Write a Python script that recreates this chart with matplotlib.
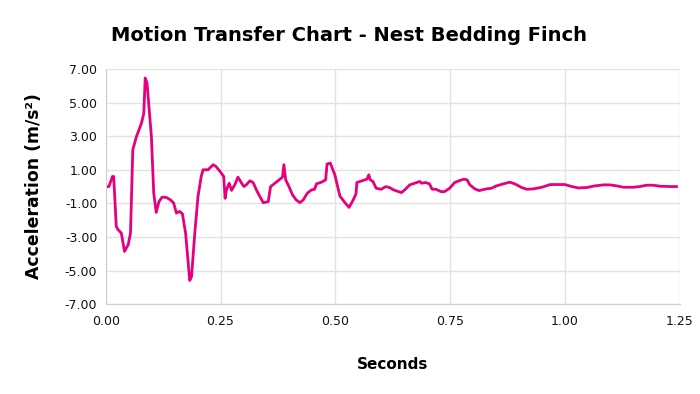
import matplotlib.pyplot as plt

# time (s) and acceleration (m/s^2)
seconds = [0.000, 0.007, 0.0146, 0.0174, 0.023, 0.027, 0.034, 0.041, 0.049, 0.054,
           0.059, 0.067, 0.078, 0.083, 0.086, 0.090, 0.0995, 0.1046, 0.110, 0.116,
           0.123, 0.132, 0.141, 0.148, 0.154, 0.161, 0.167, 0.174, 0.179, 0.183,
           0.187, 0.194, 0.201, 0.208, 0.212, 0.223, 0.234, 0.240, 0.249, 0.257,
           0.260, 0.263, 0.269, 0.274, 0.281, 0.288, 0.296, 0.301, 0.306, 0.314,
           0.321, 0.330, 0.339, 0.343, 0.354, 0.359, 0.364, 0.375, 0.385, 0.388,
           0.392, 0.399, 0.407, 0.415, 0.423, 0.430, 0.439, 0.448, 0.455, 0.459,
           0.470, 0.479, 0.482, 0.489, 0.499, 0.510, 0.521, 0.530, 0.539, 0.545,
           0.547, 0.560, 0.569, 0.573, 0.576, 0.582, 0.589, 0.600, 0.610, 0.618,
           0.627, 0.644, 0.651, 0.662, 0.673, 0.684, 0.688, 0.697, 0.705, 0.711,
           0.719, 0.730, 0.738, 0.749, 0.760, 0.771, 0.780, 0.787, 0.793, 0.804,
           0.813, 0.829, 0.840, 0.851, 0.866, 0.880, 0.891, 0.906, 0.917, 0.931,
           0.950, 0.968, 0.986, 1.000, 1.015, 1.029, 1.047, 1.065, 1.084, 1.098,
           1.113, 1.127, 1.149, 1.163, 1.178, 1.192, 1.207, 1.229, 1.243]
accel = [0.00, 0.00, 0.60, 0.60, -2.37, -2.57, -2.77, -3.86, -3.46, -2.77,
         2.19, 2.98, 3.78, 4.37, 6.46, 6.16, 2.98, -0.39, -1.54, -0.89,
         -0.63, -0.65, -0.79, -0.98, -1.58, -1.48, -1.62, -2.77, -4.36, -5.59,
         -5.35, -2.77, -0.59, 0.60, 1.00, 1.00, 1.30, 1.20, 0.90, 0.60,
         -0.70, -0.20, 0.20, -0.23, 0.10, 0.56, 0.20, 0.00, 0.10, 0.34,
         0.24, -0.30, -0.76, -0.96, -0.90, 0.00, 0.10, 0.34, 0.56, 1.30,
         0.40, 0.00, -0.50, -0.80, -0.96, -0.80, -0.40, -0.20, -0.16, 0.16,
         0.26, 0.40, 1.34, 1.40, 0.70, -0.56, -0.96, -1.24, -0.80, -0.44,
         0.24, 0.36, 0.44, 0.70, 0.40, 0.30, -0.10, -0.16, 0.00, -0.06,
         -0.20, -0.36, -0.20, 0.10, 0.20, 0.30, 0.20, 0.24, 0.16, -0.16,
         -0.16, -0.30, -0.30, -0.10, 0.24, 0.36, 0.44, 0.40, 0.10, -0.14,
         -0.24, -0.14, -0.10, 0.04, 0.16, 0.26, 0.16, -0.06, -0.16, -0.14,
         -0.04, 0.12, 0.12, 0.12, 0.00, -0.08, -0.06, 0.04, 0.10, 0.10,
         0.04, -0.04, -0.04, 0.00, 0.08, 0.08, 0.02, 0.00, 0.00]

x_ticks = [0.00, 0.25, 0.50, 0.75, 1.00, 1.25]
y_ticks = [-7, -5, -3, -1, 1, 3, 5, 7]

fig = plt.figure(figsize=(7, 3.94), dpi=100)
ax = fig.add_axes([0.151, 0.228, 0.82, 0.597])

ax.plot(seconds, accel, color="#E6007E", linewidth=2)

ax.set_xlim(0, 1.25)
ax.set_ylim(-7, 7)
ax.set_xticks(x_ticks)
ax.set_yticks(y_ticks)
ax.set_xticklabels([f"{v:.2f}" for v in x_ticks])
ax.set_yticklabels([f"{v:.2f}" for v in y_ticks])
ax.tick_params(length=0, labelsize=9, colors="#111111")
ax.tick_params(axis="x", pad=8)
ax.tick_params(axis="y", pad=6)

ax.grid(True, color="#e3e3e3", linewidth=1)
ax.set_axisbelow(True)
for side in ["top", "right"]:
    ax.spines[side].set_visible(False)
for side in ["left", "bottom"]:
    ax.spines[side].set_color("#d0d0d0")

ax.set_xlabel("Seconds", fontsize=11, fontweight="bold", labelpad=21)
ax.set_ylabel("Acceleration (m/s²)", fontsize=12.4, fontweight="bold", labelpad=16)
fig.suptitle("Motion Transfer Chart - Nest Bedding Finch", x=0.498, y=0.935,
             fontsize=14, fontweight="bold")

plt.savefig("out.png", dpi=100)
